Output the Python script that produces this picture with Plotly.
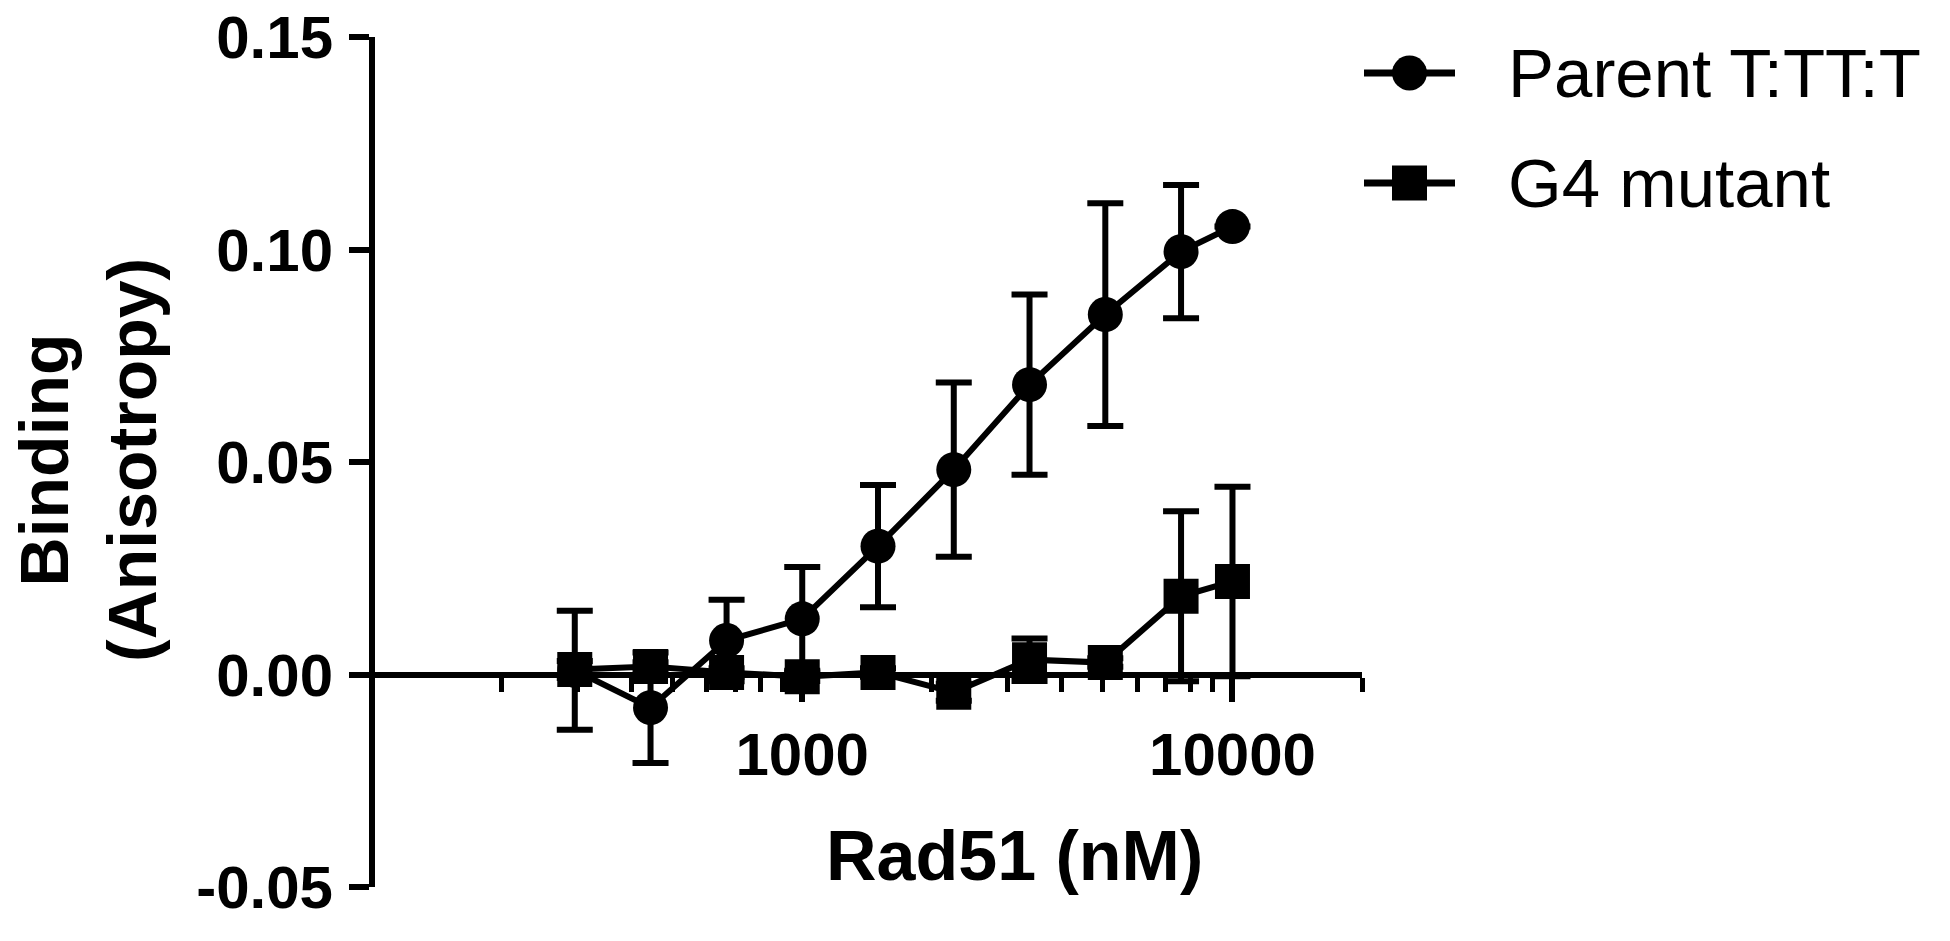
import plotly.graph_objects as go

# ---- data ----
conc_nM = [296, 444, 667, 1000, 1500, 2250, 3375, 5063, 7594, 10000]
parent_vals = [0.0010, -0.0078, 0.0080, 0.0131, 0.0302, 0.0482, 0.0682, 0.0847, 0.0995, 0.1054]
parent_err = [0.0140, 0.0130, 0.0096, 0.0122, 0.0144, 0.0205, 0.0212, 0.0262, 0.0157, 0.0]
g4_vals = [0.0012, 0.0019, 0.0005, -0.0005, 0.0005, -0.0042, 0.0035, 0.0028, 0.0184, 0.0219]
g4_err = [0.0020, 0.0010, 0.0010, 0.0010, 0.0010, 0.0020, 0.0050, 0.0010, 0.0200, 0.0223]

series_names = ["Parent T:TT:T", "G4 mutant"]
series_symbols = ["circle", "square"]

y_tickvals = [-0.05, 0.0, 0.05, 0.10, 0.15]
y_ticktext = ["-0.05", "0.00", "0.05", "0.10", "0.15"]
x_tickvals = [1000, 10000]
x_ticktext = ["1000", "10000"]
x_minor_vals = [200, 300, 400, 500, 600, 700, 800, 900,
                2000, 3000, 4000, 5000, 6000, 7000, 8000, 9000, 20000]

x_title = "Rad51 (nM)"
y_title = "Binding<br>(Anisotropy)"

# ---- layout geometry (pixels in a 1950x941 canvas) ----
W, H = 1950, 941
PL, PR, PT, PB = 372, 1362, 37, 887
ZERO_Y = 675
FONT = "Liberation Sans, Arial, sans-serif"
BLACK = "#000000"

fig = go.Figure()

for name, sym, vals, errs in [
    (series_names[0], series_symbols[0], parent_vals, parent_err),
    (series_names[1], series_symbols[1], g4_vals, g4_err),
]:
    fig.add_trace(go.Scatter(
        x=conc_nM, y=vals, name=name, mode="lines+markers",
        line=dict(color=BLACK, width=6),
        marker=dict(symbol=sym, size=35, color=BLACK),
        error_y=dict(type="data", array=errs, visible=True,
                     color=BLACK, thickness=6, width=18),
        showlegend=False, cliponaxis=False,
    ))

# ---- manual legend (glyph line + marker, then text) ----
leg_x0, leg_x1 = 1364, 1455
leg_rows = [73, 183]
pitch = leg_rows[1] - leg_rows[0]
for i, (name, sym) in enumerate(zip(series_names, series_symbols)):
    fig.add_trace(go.Scatter(
        x=[0, 1], y=[i, i], mode="lines", xaxis="x2", yaxis="y2",
        line=dict(color=BLACK, width=7), showlegend=False,
        hoverinfo="skip", cliponaxis=False))
    fig.add_trace(go.Scatter(
        x=[0.5], y=[i], mode="markers", xaxis="x2", yaxis="y2",
        marker=dict(symbol=sym, size=35, color=BLACK),
        showlegend=False, hoverinfo="skip", cliponaxis=False))
    fig.add_annotation(
        x=1506 / W, y=1 - leg_rows[i] / H, xref="paper", yref="paper",
        text=name, showarrow=False, xanchor="left", yanchor="middle",
        font=dict(family=FONT, size=69, color=BLACK))

fig.update_layout(
    width=W, height=H,
    margin=dict(l=0, r=0, t=0, b=0, pad=0, autoexpand=False),
    paper_bgcolor="white", plot_bgcolor="white",
    showlegend=False,
    xaxis=dict(
        type="log", range=[2, 4.30103],
        domain=[PL / W, PR / W], automargin=False,
        anchor="free", position=1 - ZERO_Y / H,
        showline=True, linecolor=BLACK, linewidth=6,
        showgrid=False, zeroline=False,
        tickmode="array", tickvals=x_tickvals, ticktext=x_ticktext,
        ticks="outside", ticklen=24, tickwidth=6, tickcolor=BLACK,
        ticklabelstandoff=1,
        tickfont=dict(family=FONT, size=60, color=BLACK, weight="bold"),
        minor=dict(tickmode="array", tickvals=x_minor_vals, ticks="outside",
                   ticklen=14, tickwidth=5, tickcolor=BLACK, showgrid=False),
    ),
    yaxis=dict(
        range=[-0.05, 0.15],
        domain=[1 - PB / H, 1 - PT / H], automargin=False,
        anchor="free", position=PL / W,
        showline=True, linecolor=BLACK, linewidth=6,
        showgrid=False, zeroline=False,
        tickmode="array", tickvals=y_tickvals, ticktext=y_ticktext,
        ticks="outside", ticklen=20, tickwidth=6, tickcolor=BLACK,
        ticklabelstandoff=4,
        tickfont=dict(family=FONT, size=60, color=BLACK, weight="bold"),
    ),
    xaxis2=dict(domain=[leg_x0 / W, leg_x1 / W], range=[0, 1],
                anchor="y2", visible=False, fixedrange=True, automargin=False),
    yaxis2=dict(domain=[1 - (leg_rows[1] + pitch / 2) / H,
                        1 - (leg_rows[0] - pitch / 2) / H],
                range=[1.5, -0.5],
                anchor="x2", visible=False, fixedrange=True, automargin=False),
)

fig.add_annotation(
    x=1014 / W, y=1 - 856 / H, xref="paper", yref="paper",
    text=x_title, showarrow=False, xanchor="center", yanchor="middle",
    font=dict(family=FONT, size=70, color=BLACK, weight="bold"))

fig.add_annotation(
    x=88 / W, y=1 - 460 / H, xref="paper", yref="paper",
    text=y_title, showarrow=False, textangle=-90,
    xanchor="center", yanchor="middle",
    font=dict(family=FONT, size=68, color=BLACK, weight="bold"))

fig.write_html("out.html",
               config={"displayModeBar": False},
               post_script="document.body.style.margin='0px';")
